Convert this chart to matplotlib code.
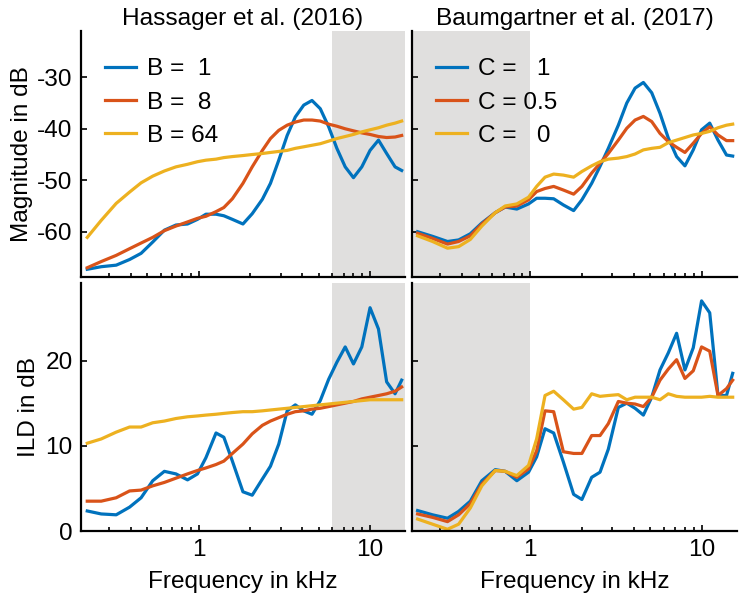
import numpy as np
import matplotlib
matplotlib.use('Agg')
import matplotlib.pyplot as plt
from matplotlib.ticker import LogLocator, NullFormatter

plt.rcParams['font.family'] = ['Liberation Sans', 'DejaVu Sans']
plt.rcParams['axes.unicode_minus'] = False

#### frequency grids in kHz
freq_left = [0.223, 0.269, 0.329, 0.394, 0.460, 0.538, 0.629, 0.735, 0.859, 0.982,
             1.10, 1.26, 1.40, 1.57, 1.81, 2.05, 2.35, 2.62, 2.93, 3.28,
             3.66, 4.10, 4.58, 5.12, 5.73, 6.40, 7.16, 8.00, 8.95, 10.0,
             11.2, 12.5, 14.0, 15.3]
freq_right = [0.221, 0.270, 0.330, 0.383, 0.448, 0.523, 0.626, 0.715, 0.836, 0.978,
              1.09, 1.22, 1.37, 1.56, 1.79, 2.00, 2.28, 2.55, 2.85, 3.26,
              3.65, 4.08, 4.56, 5.10, 5.70, 6.37, 7.12, 7.96, 8.90, 9.95,
              11.1, 12.4, 13.9, 15.1]

#### Hassager et al. (2016): magnitude (dB)
mag_b1 = [-67.3, -66.8, -66.5, -65.4, -64.2, -62.0, -59.7, -58.7, -58.5, -57.6,
          -56.6, -56.6, -56.9, -57.6, -58.5, -56.5, -53.7, -50.6, -46.1, -41.3,
          -37.7, -35.4, -34.5, -36.1, -39.6, -43.8, -47.4, -49.5, -47.4, -44.2,
          -42.2, -44.8, -47.4, -48.1]
mag_b8 = [-67.0, -65.8, -64.6, -63.3, -62.2, -61.1, -59.8, -58.9, -58.1, -57.4,
          -57.0, -56.1, -55.3, -53.6, -50.6, -47.4, -44.2, -41.9, -40.3, -39.3,
          -38.7, -38.3, -38.3, -38.5, -39.1, -39.5, -40.0, -40.4, -40.8, -41.1,
          -41.5, -41.7, -41.6, -41.3]
mag_b64 = [-61.1, -57.8, -54.5, -52.3, -50.5, -49.2, -48.2, -47.4, -46.9, -46.4,
           -46.1, -45.9, -45.6, -45.4, -45.2, -45.0, -44.8, -44.6, -44.4, -44.2,
           -43.8, -43.5, -43.2, -42.9, -42.4, -41.9, -41.5, -41.1, -40.6, -40.2,
           -39.8, -39.3, -38.9, -38.5]

#### Hassager et al. (2016): ILD (dB)
ild_b1 = [2.35, 2.0, 1.9, 2.8, 3.9, 5.9, 7.0, 6.7, 6.0, 6.7,
          8.6, 11.5, 11.0, 8.2, 4.6, 4.2, 6.1, 7.6, 10.2, 14.1,
          14.8, 14.1, 13.7, 15.3, 17.8, 19.8, 21.6, 19.6, 21.6, 26.2,
          23.7, 17.5, 16.1, 17.7]
ild_b8 = [3.5, 3.5, 3.9, 4.7, 4.8, 5.3, 5.7, 6.2, 6.7, 7.1,
          7.4, 7.8, 8.2, 9.1, 10.2, 11.4, 12.4, 12.9, 13.3, 13.7,
          14.0, 14.1, 14.3, 14.4, 14.6, 14.8, 15.0, 15.2, 15.5, 15.7,
          15.9, 16.1, 16.4, 16.9]
ild_b64 = [10.3, 10.8, 11.6, 12.2, 12.2, 12.7, 12.9, 13.2, 13.4, 13.5,
           13.6, 13.7, 13.8, 13.9, 14.0, 14.0, 14.1, 14.2, 14.3, 14.4,
           14.5, 14.6, 14.7, 14.8, 14.9, 15.0, 15.1, 15.2, 15.3, 15.4,
           15.4, 15.4, 15.4, 15.4]

#### Baumgartner et al. (2017): magnitude (dB)
mag_c1 = [-60.0, -60.9, -61.9, -61.6, -60.4, -58.3, -56.3, -55.2, -55.6, -54.6,
          -53.5, -53.5, -53.6, -54.8, -55.9, -53.8, -50.6, -47.3, -43.8, -39.3,
          -35.0, -32.1, -31.0, -33.0, -37.0, -41.8, -45.4, -47.2, -44.1, -40.2,
          -38.9, -42.2, -45.1, -45.3]
mag_c05 = [-60.3, -61.3, -62.4, -61.9, -60.8, -58.5, -56.3, -55.2, -55.0, -53.8,
           -52.2, -51.6, -51.2, -51.9, -52.7, -51.2, -48.6, -46.7, -44.8, -42.2,
           -39.9, -38.3, -37.6, -38.6, -40.9, -42.5, -43.6, -44.6, -42.8, -40.9,
           -39.6, -41.2, -42.3, -42.3]
mag_c0 = [-60.8, -61.9, -63.2, -62.9, -61.5, -58.9, -56.3, -55.0, -54.6, -53.3,
          -51.2, -49.4, -48.8, -49.0, -49.4, -48.3, -47.2, -46.4, -45.9, -45.7,
          -45.4, -44.9, -44.1, -43.8, -43.6, -42.7, -42.2, -41.7, -41.2, -40.9,
          -40.5, -39.8, -39.3, -39.1]

#### Baumgartner et al. (2017): ILD (dB)
ild_c1 = [2.4, 1.9, 1.5, 2.3, 3.5, 5.9, 7.2, 7.0, 5.9, 6.9,
          8.7, 12.0, 11.5, 8.1, 4.3, 3.7, 6.3, 6.9, 9.6, 14.5,
          15.0, 14.4, 13.6, 15.7, 18.9, 20.9, 23.2, 18.9, 21.5, 27.0,
          25.6, 15.9, 15.9, 18.5]
ild_c05 = [2.0, 1.6, 1.1, 1.9, 3.2, 5.5, 7.1, 7.0, 6.3, 7.3,
           9.4, 14.1, 14.0, 9.3, 9.1, 9.1, 11.2, 11.2, 12.6, 15.2,
           15.0, 14.9, 14.6, 15.7, 17.7, 19.0, 20.1, 17.9, 18.8, 21.6,
           21.1, 15.9, 16.7, 17.7]
ild_c0 = [1.4, 0.8, 0.2, 0.8, 2.7, 5.3, 7.1, 7.0, 6.5, 7.7,
          10.8, 15.9, 16.4, 15.4, 14.3, 14.5, 16.1, 15.8, 15.9, 16.0,
          15.4, 15.7, 15.7, 15.7, 15.4, 16.1, 15.8, 15.7, 15.7, 15.7,
          15.8, 15.7, 15.7, 15.7]

labels_b = ['B =  1', 'B =  8', 'B = 64']
labels_c = ['C =   1', 'C = 0.5', 'C =   0']
colors = ['#0072BD', '#D95319', '#EDB120']
shade = '#e0dfde'
fs = 17.6


def style_axes(ax, ylim, show_y, show_x):
    ax.set_xscale('log')
    ax.set_xlim(0.205, 16)
    ax.set_ylim(*ylim)
    for s in ['top', 'right']:
        ax.spines[s].set_visible(False)
    for s in ['left', 'bottom']:
        ax.spines[s].set_linewidth(1.6)
    ax.set_xticks([1, 10])
    ax.set_xticklabels(['1', '10'] if show_x else [])
    ax.xaxis.set_minor_locator(LogLocator(base=10, subs=np.arange(2, 10)))
    ax.xaxis.set_minor_formatter(NullFormatter())
    ax.tick_params(which='both', direction='in', labelsize=fs, width=1.2, pad=6)
    ax.tick_params(which='major', length=4)
    ax.tick_params(which='minor', length=3)
    if not show_y:
        ax.set_yticklabels([])


fig = plt.figure(figsize=(7.46, 6.04), dpi=100)
W, H = 746, 604
ax_tl = fig.add_axes([81 / W, 1 - 277 / H, 324 / W, 246 / H])
ax_tr = fig.add_axes([412 / W, 1 - 277 / H, 325 / W, 246 / H])
ax_bl = fig.add_axes([81 / W, 1 - 531 / H, 324 / W, 248 / H])
ax_br = fig.add_axes([412 / W, 1 - 531 / H, 325 / W, 248 / H])

mag_lim = (-68.8, -21)
ild_lim = (0, 29.1)

# left column: Hassager
for ax, series in [(ax_tl, [mag_b1, mag_b8, mag_b64]),
                   (ax_bl, [ild_b1, ild_b8, ild_b64])]:
    ax.axvspan(6, 16, color=shade, lw=0, zorder=0)
    for vals, c, lab in zip(series, colors, labels_b):
        ax.plot(freq_left, vals, color=c, lw=2.3, label=lab, zorder=2)

# right column: Baumgartner
for ax, series in [(ax_tr, [mag_c1, mag_c05, mag_c0]),
                   (ax_br, [ild_c1, ild_c05, ild_c0])]:
    ax.axvspan(0.1, 1, color=shade, lw=0, zorder=0)
    for vals, c, lab in zip(series, colors, labels_c):
        ax.plot(freq_right, vals, color=c, lw=2.3, label=lab, zorder=2)

style_axes(ax_tl, mag_lim, True, False)
style_axes(ax_tr, mag_lim, False, False)
style_axes(ax_bl, ild_lim, True, True)
style_axes(ax_br, ild_lim, False, True)
ax_tl.set_yticks([-60, -50, -40, -30])
ax_tr.set_yticks([-60, -50, -40, -30])
ax_tr.set_yticklabels([])
ax_bl.set_yticks([0, 10, 20])
ax_br.set_yticks([0, 10, 20])
ax_br.set_yticklabels([])

ax_tl.set_title('Hassager et al. (2016)', fontsize=fs, pad=4)
ax_tr.set_title('Baumgartner et al. (2017)', fontsize=fs, pad=4)
ax_tl.set_ylabel('Magnitude in dB', fontsize=fs, labelpad=3)
ax_bl.set_ylabel('ILD in dB', fontsize=fs, labelpad=4)
ax_bl.set_xlabel('Frequency in kHz', fontsize=fs, labelpad=7)
ax_br.set_xlabel('Frequency in kHz', fontsize=fs, labelpad=7)

for ax in [ax_tl, ax_tr]:
    ax.legend(loc='upper left', bbox_to_anchor=(0.075, 0.89), frameon=False,
              fontsize=fs, borderpad=0, borderaxespad=0, handlelength=1.25,
              handletextpad=0.45, labelspacing=0.46)

fig.savefig('out.png', dpi=100)
